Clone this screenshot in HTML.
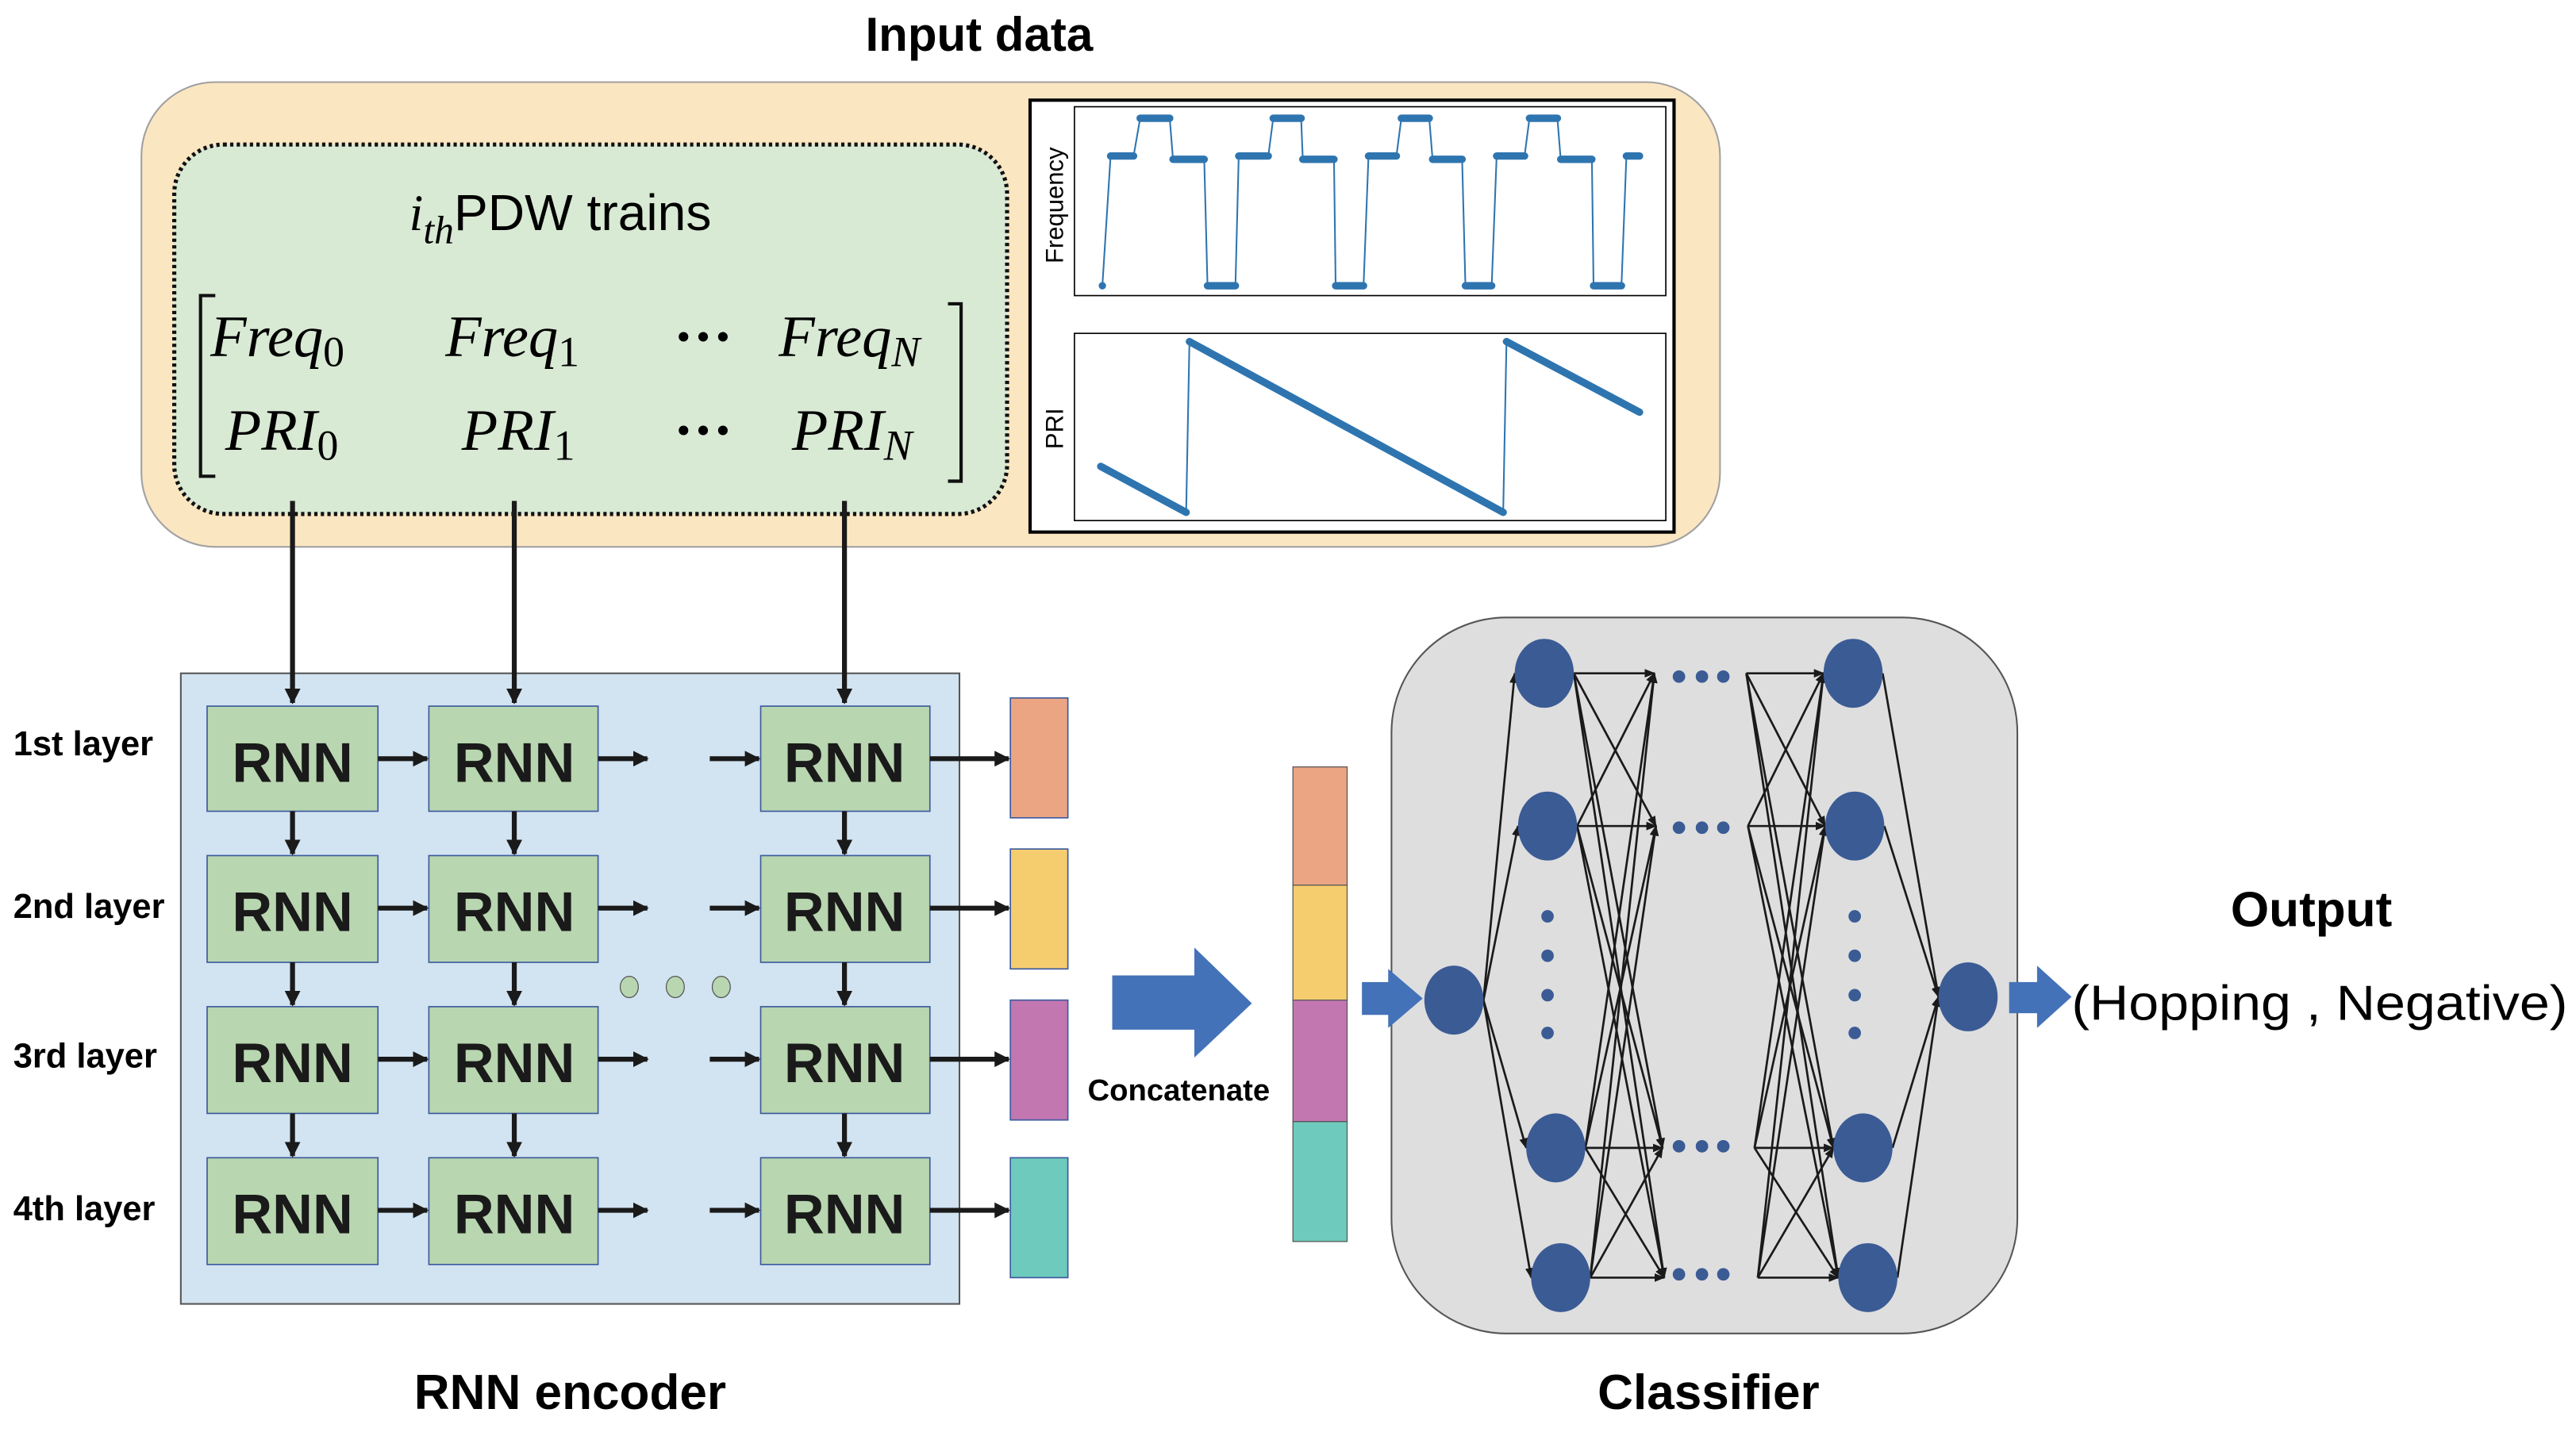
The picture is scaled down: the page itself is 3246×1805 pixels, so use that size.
<!DOCTYPE html>
<html><head><meta charset="utf-8"><style>
html,body{margin:0;padding:0;background:#fff;}
svg{display:block;}
text{font-family:"Liberation Sans",sans-serif;}
.b{font-weight:bold;}
.m{font-family:"Liberation Serif",serif;font-style:italic;}
.s{font-family:"Liberation Serif",serif;font-style:normal;}
</style></head><body>
<svg width="3246" height="1805" viewBox="0 0 1568 872" xmlns="http://www.w3.org/2000/svg">
<defs>
<marker id="ah" viewBox="0 0 10 10" refX="9" refY="5" markerWidth="3.2" markerHeight="3.2" orient="auto"><path d="M0,0 L10,5 L0,10 z" fill="#1a1a1a"/></marker>
<marker id="as" viewBox="0 0 10 10" refX="9" refY="5" markerWidth="5" markerHeight="5" orient="auto"><path d="M0,1 L10,5 L0,9 z" fill="#1a1a1a"/></marker>
</defs>
<rect width="1568" height="872" fill="#fff"/>

<!-- Input data -->
<text x="596" y="31" class="b" font-size="29" text-anchor="middle">Input data</text>
<rect x="86" y="50" width="961" height="283" rx="45" fill="#fbe6c2" stroke="#a0a0a0" stroke-width="1"/>
<rect x="106" y="88" width="507" height="225" rx="30" fill="#d8e9d4" stroke="#111" stroke-width="2.5" stroke-dasharray="2,2"/>
<text x="249" y="140" font-size="31"><tspan class="m">i</tspan><tspan class="m" font-size="24" dy="8">th</tspan><tspan dy="-8">PDW trains</tspan></text>
<path d="M131,180 H122 V290 H131" fill="none" stroke="#111" stroke-width="2"/>
<path d="M577,185 H585 V293 H577" fill="none" stroke="#111" stroke-width="2"/>
<g font-size="36">
<text x="128" y="217" class="m">Freq<tspan class="s" font-size="26" dy="6">0</tspan></text>
<text x="271" y="217" class="m">Freq<tspan class="s" font-size="26" dy="6">1</tspan></text>
<text x="410" y="217" class="s b">···</text>
<text x="474" y="217" class="m">Freq<tspan font-size="26" dy="6">N</tspan></text>
<text x="137" y="274" class="m">PRI<tspan class="s" font-size="26" dy="6">0</tspan></text>
<text x="281" y="274" class="m">PRI<tspan class="s" font-size="26" dy="6">1</tspan></text>
<text x="410" y="274" class="s b">···</text>
<text x="482" y="274" class="m">PRI<tspan font-size="26" dy="6">N</tspan></text>
</g>

<!-- chart -->
<rect x="627" y="61" width="392" height="263" fill="#fff" stroke="#000" stroke-width="2"/>
<rect x="654" y="65" width="360" height="115" fill="#fff" stroke="#000" stroke-width="0.8"/>
<rect x="654" y="203" width="360" height="114" fill="#fff" stroke="#000" stroke-width="0.8"/>
<text transform="translate(647,125) rotate(-90)" font-size="15" text-anchor="middle">Frequency</text>
<text transform="translate(647,261) rotate(-90)" font-size="15" text-anchor="middle">PRI</text>
<g stroke="#2e75b0" fill="none">
<polyline stroke-width="1" points="671,174 676,95 690,95 694,72 712,72 714,97 733,97 735,174 752,174 754,95 772,95 775,72 792,72 793,97 812,97 813,174 830,174 833,95 850,95 853,72 870,72 872,97 890,97 892,174 908,174 911,95 928,95 931,72 948,72 950,97 969,97 970,174 987,174 990,95 998,95"/>
<g stroke-width="4.5" stroke-linecap="round">
<path d="M671,174h0 M676,95H690 M694,72H712 M714,97H733 M735,174H752 M754,95H772 M775,72H792 M793,97H812 M813,174H830 M833,95H850 M853,72H870 M872,97H890 M892,174H908 M911,95H928 M931,72H948 M950,97H969 M970,174H987 M990,95H998"/>
</g>
<polyline stroke-width="1" points="670,284 722,312 724,208 915,312 917,208 998,251"/>
<g stroke-width="4.5" stroke-linecap="round"><path d="M670,284 L722,312 M724,208 L915,312 M917,208 L998,251"/></g>
</g>

<!-- RNN encoder -->
<rect x="110" y="410" width="474" height="384" fill="#d2e3f1" stroke="#555" stroke-width="1"/>
<g stroke="#1a1a1a" stroke-width="3" fill="none" marker-end="url(#ah)">
<path d="M178,305 V428"/><path d="M313,305 V428"/><path d="M514,305 V428"/>
</g>
<g font-size="21" class="b">
<text x="8" y="460" class="b">1st layer</text>
<text x="8" y="559" class="b">2nd layer</text>
<text x="8" y="650" class="b">3rd layer</text>
<text x="8" y="743" class="b">4th layer</text>
</g>
<g fill="#b8d6b0" stroke="#3d5a9e" stroke-width="0.8">
<rect x="126" y="430" width="104" height="64"/><rect x="261" y="430" width="103" height="64"/><rect x="463" y="430" width="103" height="64"/>
<rect x="126" y="521" width="104" height="65"/><rect x="261" y="521" width="103" height="65"/><rect x="463" y="521" width="103" height="65"/>
<rect x="126" y="613" width="104" height="65"/><rect x="261" y="613" width="103" height="65"/><rect x="463" y="613" width="103" height="65"/>
<rect x="126" y="705" width="104" height="65"/><rect x="261" y="705" width="103" height="65"/><rect x="463" y="705" width="103" height="65"/>
</g>
<g font-size="34" class="b" text-anchor="middle" fill="#1a1a1a">
<text x="178" y="476">RNN</text><text x="313" y="476">RNN</text><text x="514" y="476">RNN</text>
<text x="178" y="567">RNN</text><text x="313" y="567">RNN</text><text x="514" y="567">RNN</text>
<text x="178" y="659">RNN</text><text x="313" y="659">RNN</text><text x="514" y="659">RNN</text>
<text x="178" y="751">RNN</text><text x="313" y="751">RNN</text><text x="514" y="751">RNN</text>
</g>
<g stroke="#1a1a1a" stroke-width="3" fill="none" marker-end="url(#ah)">
<path d="M230,462 H260"/><path d="M364,462 H394"/><path d="M432,462 H462"/><path d="M566,462 H614"/>
<path d="M230,553 H260"/><path d="M364,553 H394"/><path d="M432,553 H462"/><path d="M566,553 H614"/>
<path d="M230,645 H260"/><path d="M364,645 H394"/><path d="M432,645 H462"/><path d="M566,645 H614"/>
<path d="M230,737 H260"/><path d="M364,737 H394"/><path d="M432,737 H462"/><path d="M566,737 H614"/>
<path d="M178,494 V520"/><path d="M313,494 V520"/><path d="M514,494 V520"/>
<path d="M178,586 V612"/><path d="M313,586 V612"/><path d="M514,586 V612"/>
<path d="M178,678 V704"/><path d="M313,678 V704"/><path d="M514,678 V704"/>
</g>
<g fill="#b8d6b0" stroke="#555" stroke-width="0.6">
<ellipse cx="383" cy="601" rx="5.5" ry="6.5"/><ellipse cx="411" cy="601" rx="5.5" ry="6.5"/><ellipse cx="439" cy="601" rx="5.5" ry="6.5"/>
</g>
<g stroke="#3d5a9e" stroke-width="0.8">
<rect x="615" y="425" width="35" height="73" fill="#eba583"/>
<rect x="615" y="517" width="35" height="73" fill="#f5cd6f"/>
<rect x="615" y="609" width="35" height="73" fill="#c277b1"/>
<rect x="615" y="705" width="35" height="73" fill="#6dcabc"/>
</g>
<text x="347" y="858" class="b" font-size="30" text-anchor="middle">RNN encoder</text>

<!-- concatenate -->
<path d="M677,594 H727 V577 L762,611 L727,644 V627 H677 Z" fill="#4372b8"/>
<text x="662" y="670" class="b" font-size="18.5">Concatenate</text>
<g stroke="#555" stroke-width="0.6">
<rect x="787" y="467" width="33" height="72" fill="#eba583"/>
<rect x="787" y="539" width="33" height="70" fill="#f5cd6f"/>
<rect x="787" y="609" width="33" height="74" fill="#c277b1"/>
<rect x="787" y="683" width="33" height="73" fill="#6dcabc"/>
</g>

<!-- classifier -->
<rect x="847" y="376" width="381" height="436" rx="70" fill="#dedede" stroke="#555" stroke-width="1"/>
<path d="M829,598 H845 V590 L866,608 L845,626 V618 H829 Z" fill="#4372b8"/>
<g stroke="#1a1a1a" stroke-width="1.3" fill="none" marker-end="url(#as)">
<path d="M903,609 L922,410"/><path d="M903,609 L924,503"/><path d="M903,609 L929,699"/><path d="M903,609 L932,778"/>
<path d="M958,410 L1007,410"/><path d="M958,410 L1008,503"/><path d="M958,410 L1012,699"/><path d="M958,410 L1013,778"/>
<path d="M960,503 L1007,410"/><path d="M960,503 L1008,503"/><path d="M960,503 L1012,699"/><path d="M960,503 L1013,778"/>
<path d="M965,699 L1007,410"/><path d="M965,699 L1008,503"/><path d="M965,699 L1012,699"/><path d="M965,699 L1013,778"/>
<path d="M968,778 L1007,410"/><path d="M968,778 L1008,503"/><path d="M968,778 L1012,699"/><path d="M968,778 L1013,778"/>
<path d="M1063,410 L1110,410"/><path d="M1063,410 L1111,503"/><path d="M1063,410 L1116,699"/><path d="M1063,410 L1119,778"/>
<path d="M1064,503 L1110,410"/><path d="M1064,503 L1111,503"/><path d="M1064,503 L1116,699"/><path d="M1064,503 L1119,778"/>
<path d="M1068,699 L1110,410"/><path d="M1068,699 L1111,503"/><path d="M1068,699 L1116,699"/><path d="M1068,699 L1119,778"/>
<path d="M1070,778 L1110,410"/><path d="M1070,778 L1111,503"/><path d="M1070,778 L1116,699"/><path d="M1070,778 L1119,778"/>
<path d="M1146,410 L1180,607"/><path d="M1147,503 L1180,607"/><path d="M1152,699 L1180,607"/><path d="M1155,778 L1180,607"/>
</g>
<g fill="#3b5b95">
<ellipse cx="885" cy="609" rx="18" ry="21"/>
<ellipse cx="940" cy="410" rx="18" ry="21"/><ellipse cx="942" cy="503" rx="18" ry="21"/><ellipse cx="947" cy="699" rx="18" ry="21"/><ellipse cx="950" cy="778" rx="18" ry="21"/>
<ellipse cx="1128" cy="410" rx="18" ry="21"/><ellipse cx="1129" cy="503" rx="18" ry="21"/><ellipse cx="1134" cy="699" rx="18" ry="21"/><ellipse cx="1137" cy="778" rx="18" ry="21"/>
<ellipse cx="1198" cy="607" rx="18" ry="21"/>
<circle cx="942" cy="558" r="3.8"/><circle cx="942" cy="582" r="3.8"/><circle cx="942" cy="606" r="3.8"/><circle cx="942" cy="629" r="3.8"/>
<circle cx="1129" cy="558" r="3.8"/><circle cx="1129" cy="582" r="3.8"/><circle cx="1129" cy="606" r="3.8"/><circle cx="1129" cy="629" r="3.8"/>
<circle cx="1022" cy="412" r="3.8"/><circle cx="1036" cy="412" r="3.8"/><circle cx="1049" cy="412" r="3.8"/>
<circle cx="1022" cy="504" r="3.8"/><circle cx="1036" cy="504" r="3.8"/><circle cx="1049" cy="504" r="3.8"/>
<circle cx="1022" cy="698" r="3.8"/><circle cx="1036" cy="698" r="3.8"/><circle cx="1049" cy="698" r="3.8"/>
<circle cx="1022" cy="776" r="3.8"/><circle cx="1036" cy="776" r="3.8"/><circle cx="1049" cy="776" r="3.8"/>
</g>
<path d="M1223,598 H1240 V588 L1261,607 L1240,626 V617 H1223 Z" fill="#4372b8"/>
<text x="1040" y="858" class="b" font-size="30" text-anchor="middle">Classifier</text>

<!-- output -->
<text x="1407" y="564" class="b" font-size="30" text-anchor="middle">Output</text>
<text x="1261" y="621" font-size="30" textLength="302" lengthAdjust="spacingAndGlyphs">(Hopping , Negative)</text>
</svg>
</body></html>
